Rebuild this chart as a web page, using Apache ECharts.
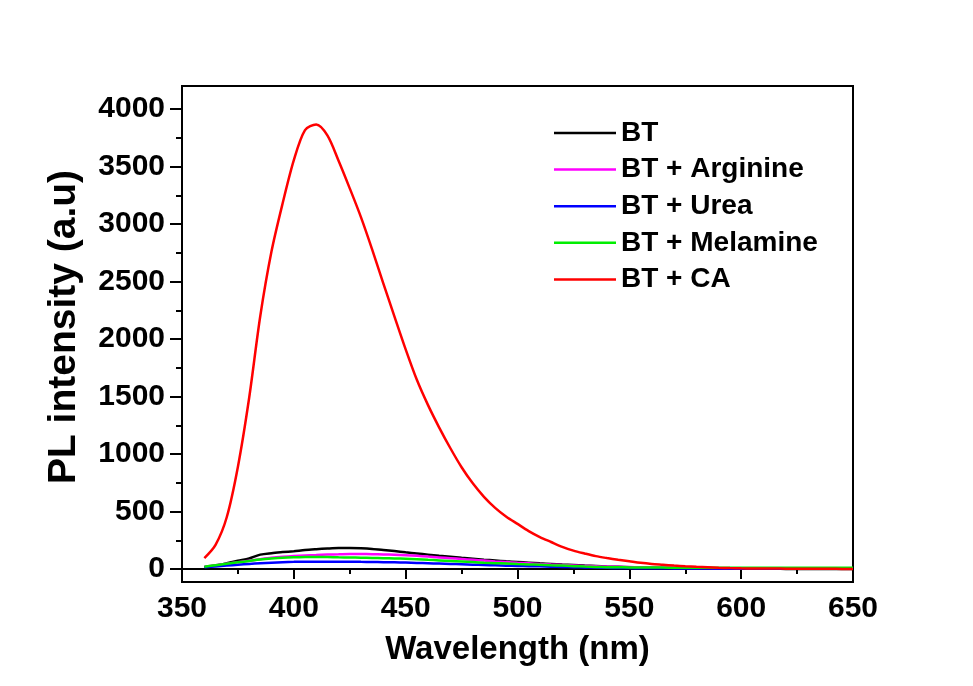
<!DOCTYPE html>
<html>
<head>
<meta charset="utf-8">
<title>PL spectra</title>
<script src="https://cdn.jsdelivr.net/npm/echarts@6/dist/echarts.min.js"></script>
<style>
  html, body { margin: 0; padding: 0; background: #ffffff; }
  #chart { width: 973px; height: 686px; }
</style>
</head>
<body>
<div id="chart"></div>
<script>
// Emission wavelengths (nm)
const wavelengths = [
  360, 365, 370, 375, 380, 385, 390, 395, 400, 405,
  410, 415, 420, 425, 430, 435, 440, 445, 450, 455,
  460, 465, 470, 475, 480, 485, 490, 495, 500, 505,
  510, 515, 520, 525, 530, 535, 540, 545, 550, 555,
  560, 565, 570, 575, 580, 585, 590, 595, 600, 605,
  610, 615, 620, 625, 630, 635, 640, 645, 650
];

// PL intensity (a.u) for each sample
const bt = [
  15, 30, 50, 72, 92, 125, 138, 147, 155, 165,
  172, 178, 182, 182, 180, 175, 166, 156, 145, 135,
  125, 115, 106, 97, 89, 81, 74, 67, 61, 55,
  49, 44, 39, 35, 30, 26, 22, 19, 16, 13,
  11, 9, 7, 6, 5, 4, 4, 3, 3, 2,
  2, 2, 1, 1, 1, 1, 0, 0, 0
];
const btArginine = [
  20, 32, 45, 58, 72, 85, 97, 106, 113, 118,
  122, 126, 128, 130, 130, 129, 127, 124, 120, 115,
  108, 101, 94, 87, 80, 73, 66, 60, 54, 49,
  44, 39, 35, 31, 27, 24, 21, 19, 17, 15,
  13, 12, 11, 10, 9, 8, 7, 6, 6, 5,
  5, 4, 4, 4, 3, 3, 3, 3, 3
];
const btUrea = [
  15, 22, 30, 37, 44, 50, 55, 59, 62, 63,
  64, 64, 64, 63, 62, 61, 59, 58, 56, 53,
  50, 47, 44, 41, 38, 35, 32, 29, 27, 25,
  23, 20, 18, 16, 14, 12, 10, 9, 8, 7,
  6, 6, 5, 5, 4, 4, 4, 3, 3, 3,
  3, 3, 3, 2, 2, 2, 2, 2, 2
];
const btMelamine = [
  20, 33, 46, 58, 70, 82, 91, 98, 102, 104,
  105, 104, 102, 100, 98, 96, 94, 92, 89, 85,
  80, 75, 70, 65, 60, 55, 51, 47, 43, 40,
  37, 33, 30, 25, 21, 18, 16, 15, 14, 13,
  12, 12, 11, 11, 11, 10, 10, 10, 10, 10,
  10, 10, 10, 10, 10, 10, 10, 10, 10
];
const btCA = [
  95, 210, 450, 890, 1485, 2200, 2760, 3180, 3555, 3817,
  3865, 3770, 3550, 3310, 3060, 2780, 2484, 2195, 1910, 1645,
  1425, 1230, 1050, 885, 745, 628, 532, 455, 392, 330,
  278, 235, 193, 160, 135, 112, 95, 80, 67, 54,
  44, 37, 30, 24, 19, 15, 11, 8, 6, 5,
  4, 4, 3, 3, 2, 2, 2, 1, 1
];

const seriesNames = ['BT', 'BT + Arginine', 'BT + Urea', 'BT + Melamine', 'BT + CA'];
const seriesValues = [bt, btArginine, btUrea, btMelamine, btCA];
const seriesColors = ['#000000', '#ff00ff', '#0000ff', '#00ee00', '#ff0000'];

// Axis ticks
const yMajorTicks = [0, 500, 1000, 1500, 2000, 2500, 3000, 3500, 4000];
const yMinorTicks = [250, 750, 1250, 1750, 2250, 2750, 3250, 3750];

const FONT = '"Liberation Sans", Arial, sans-serif';
const Y_MIN = -113;
const Y_MAX = 4200;

const chart = echarts.init(document.getElementById('chart'), null, { renderer: 'canvas' });

const series = seriesNames.map((name, i) => ({
  name: name,
  type: 'line',
  xAxisIndex: 0,
  yAxisIndex: 0,
  showSymbol: false,
  symbol: 'none',
  smooth: 0.3,
  z: 2 + i,
  lineStyle: { color: seriesColors[i], width: 2.5 },
  itemStyle: { color: seriesColors[i] },
  data: wavelengths.map((w, k) => [w, seriesValues[i][k]])
}));

chart.setOption({
  backgroundColor: '#ffffff',
  animation: false,
  grid: {
    left: 182, right: 120, top: 86, bottom: 104,
    show: true, borderColor: '#000000', borderWidth: 2,
    backgroundColor: 'transparent'
  },
  legend: {
    data: seriesNames,
    orient: 'vertical',
    left: 554,
    top: 119,
    padding: 0,
    icon: 'rect',
    itemWidth: 62,
    itemHeight: 2.5,
    itemGap: 8.6,
    textStyle: {
      fontFamily: FONT, fontWeight: 'bold', fontSize: 28,
      color: '#000000', lineHeight: 28
    }
  },
  xAxis: {
    type: 'value',
    min: 350, max: 650, interval: 50,
    name: 'Wavelength (nm)',
    nameLocation: 'middle',
    nameGap: 51,
    nameTextStyle: { fontFamily: FONT, fontWeight: 'bold', fontSize: 33, color: '#000000' },
    axisLine: { show: true, lineStyle: { color: '#000000', width: 2 } },
    axisTick: { show: true, inside: false, length: 10, lineStyle: { color: '#000000', width: 2 } },
    minorTick: { show: true, splitNumber: 2, length: 5, lineStyle: { color: '#000000', width: 2 } },
    axisLabel: { fontFamily: FONT, fontWeight: 'bold', fontSize: 30, color: '#000000', margin: 12 },
    splitLine: { show: false },
    minorSplitLine: { show: false }
  },
  yAxis: [
    {
      type: 'value',
      position: 'left',
      min: Y_MIN, max: Y_MAX,
      name: 'PL intensity (a.u)',
      nameLocation: 'middle',
      nameGap: 98,
      nameRotate: 90,
      nameTextStyle: {
        fontFamily: FONT, fontWeight: 'bold', fontSize: 39, color: '#000000',
        padding: [0, 0, 0, 14]
      },
      axisLine: { show: true, lineStyle: { color: '#000000', width: 2 } },
      axisTick: { show: true, inside: false, length: 12, customValues: yMajorTicks, lineStyle: { color: '#000000', width: 2 } },
      axisLabel: {
        fontFamily: FONT, fontWeight: 'bold', fontSize: 30, color: '#000000', margin: 17,
        customValues: yMajorTicks,
        formatter: (v) => String(Math.round(v))
      },
      splitLine: { show: false }
    },
    {
      // minor ticks on the intensity axis
      type: 'value',
      position: 'left',
      offset: 0,
      min: Y_MIN, max: Y_MAX,
      axisLine: { show: false },
      axisTick: { show: true, inside: false, length: 6, customValues: yMinorTicks, lineStyle: { color: '#000000', width: 2 } },
      axisLabel: { show: false, customValues: yMinorTicks },
      splitLine: { show: false }
    }
  ],
  series: series
});
</script>
</body>
</html>
